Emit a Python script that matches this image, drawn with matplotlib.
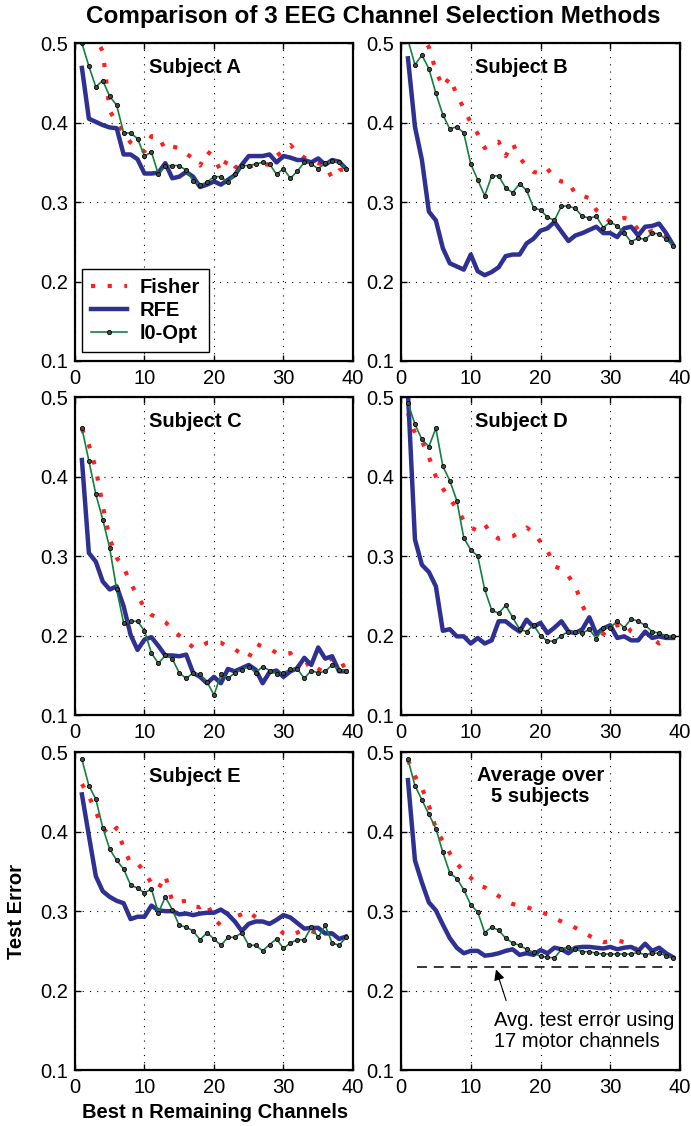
import numpy as np
import matplotlib
matplotlib.use("Agg")
import matplotlib.pyplot as plt

plt.rcParams['font.family'] = ['Liberation Sans', 'DejaVu Sans']

n_channels = np.arange(1, 40)

# test error per subject
fisher_A = [0.53, 0.52, 0.505, 0.49, 0.415, 0.40, 0.387, 0.375, 0.368, 0.364,
            0.383, 0.383, 0.366, 0.370, 0.368, 0.361, 0.355, 0.346, 0.364, 0.357,
            0.338, 0.355, 0.345, 0.340, 0.345, 0.346, 0.348, 0.347, 0.358, 0.365,
            0.372, 0.362, 0.356, 0.352, 0.349, 0.347, 0.330, 0.340, 0.342]
rfe_A = [0.469, 0.405, 0.401, 0.397, 0.394, 0.393, 0.360, 0.360, 0.354, 0.336,
         0.336, 0.337, 0.349, 0.330, 0.332, 0.338, 0.332, 0.319, 0.322, 0.326,
         0.322, 0.328, 0.334, 0.347, 0.358, 0.358, 0.358, 0.360, 0.350, 0.358,
         0.356, 0.353, 0.353, 0.350, 0.355, 0.347, 0.353, 0.351, 0.342]
l0_A = [0.500, 0.471, 0.445, 0.453, 0.433, 0.422, 0.387, 0.387, 0.380, 0.358,
        0.363, 0.335, 0.346, 0.346, 0.346, 0.340, 0.327, 0.322, 0.325, 0.332,
        0.332, 0.325, 0.335, 0.346, 0.346, 0.348, 0.350, 0.348, 0.335, 0.342,
        0.330, 0.339, 0.350, 0.348, 0.342, 0.349, 0.352, 0.350, 0.342]

fisher_B = [0.56, 0.53, 0.51, 0.495, 0.465, 0.445, 0.457, 0.435, 0.418, 0.400,
            0.386, 0.368, 0.374, 0.376, 0.358, 0.374, 0.356, 0.345, 0.338, 0.336,
            0.342, 0.330, 0.326, 0.326, 0.310, 0.308, 0.305, 0.290, 0.283, 0.275,
            0.278, 0.280, 0.278, 0.265, 0.260, 0.264, 0.262, 0.258, 0.246]
rfe_B = [0.481, 0.395, 0.353, 0.288, 0.277, 0.242, 0.223, 0.219, 0.215, 0.234,
         0.213, 0.208, 0.212, 0.218, 0.232, 0.234, 0.234, 0.248, 0.254, 0.264,
         0.267, 0.275, 0.263, 0.251, 0.258, 0.261, 0.265, 0.269, 0.261, 0.261,
         0.256, 0.267, 0.269, 0.258, 0.269, 0.270, 0.273, 0.261, 0.246]
l0_B = [0.504, 0.473, 0.485, 0.468, 0.437, 0.410, 0.392, 0.395, 0.387, 0.348,
        0.328, 0.308, 0.333, 0.333, 0.318, 0.312, 0.323, 0.315, 0.293, 0.290,
        0.281, 0.277, 0.295, 0.295, 0.292, 0.282, 0.280, 0.282, 0.268, 0.275,
        0.270, 0.261, 0.250, 0.255, 0.253, 0.261, 0.260, 0.253, 0.245]

fisher_C = [0.46, 0.44, 0.41, 0.363, 0.322, 0.298, 0.286, 0.266, 0.250, 0.235,
            0.226, 0.222, 0.217, 0.208, 0.200, 0.193, 0.185, 0.185, 0.191, 0.191,
            0.191, 0.186, 0.183, 0.176, 0.172, 0.190, 0.186, 0.184, 0.178, 0.177,
            0.178, 0.160, 0.171, 0.156, 0.155, 0.168, 0.171, 0.172, 0.156]
rfe_C = [0.421, 0.304, 0.293, 0.268, 0.258, 0.262, 0.237, 0.201, 0.182, 0.195,
         0.198, 0.187, 0.175, 0.175, 0.174, 0.176, 0.153, 0.148, 0.140, 0.148,
         0.140, 0.158, 0.155, 0.159, 0.163, 0.157, 0.140, 0.154, 0.156, 0.148,
         0.155, 0.159, 0.172, 0.163, 0.185, 0.171, 0.174, 0.155, 0.155]
l0_C = [0.461, 0.420, 0.378, 0.346, 0.310, 0.258, 0.216, 0.218, 0.218, 0.206,
        0.178, 0.165, 0.175, 0.171, 0.153, 0.146, 0.153, 0.151, 0.142, 0.125,
        0.151, 0.146, 0.153, 0.157, 0.161, 0.153, 0.161, 0.156, 0.152, 0.153,
        0.158, 0.158, 0.146, 0.156, 0.153, 0.155, 0.163, 0.157, 0.156]

fisher_D = [0.48, 0.455, 0.445, 0.425, 0.400, 0.385, 0.372, 0.360, 0.345, 0.336,
            0.332, 0.340, 0.327, 0.322, 0.324, 0.325, 0.330, 0.336, 0.330, 0.318,
            0.307, 0.287, 0.284, 0.275, 0.262, 0.238, 0.220, 0.208, 0.202, 0.210,
            0.213, 0.216, 0.205, 0.200, 0.203, 0.197, 0.190, 0.195, 0.199]
rfe_D = [0.505, 0.321, 0.289, 0.280, 0.262, 0.206, 0.208, 0.199, 0.199, 0.190,
         0.197, 0.190, 0.194, 0.218, 0.218, 0.211, 0.205, 0.220, 0.211, 0.216,
         0.203, 0.210, 0.218, 0.205, 0.203, 0.208, 0.223, 0.202, 0.209, 0.213,
         0.197, 0.199, 0.194, 0.194, 0.205, 0.197, 0.199, 0.197, 0.197]
l0_D = [0.493, 0.466, 0.447, 0.438, 0.461, 0.413, 0.395, 0.370, 0.323, 0.308,
        0.300, 0.258, 0.232, 0.228, 0.238, 0.223, 0.208, 0.205, 0.213, 0.200,
        0.193, 0.193, 0.200, 0.205, 0.205, 0.203, 0.208, 0.196, 0.210, 0.210,
        0.218, 0.210, 0.221, 0.218, 0.213, 0.205, 0.203, 0.200, 0.199]

fisher_E = [0.46, 0.445, 0.425, 0.405, 0.395, 0.405, 0.380, 0.360, 0.360, 0.350,
            0.335, 0.328, 0.345, 0.312, 0.312, 0.313, 0.306, 0.305, 0.310, 0.290,
            0.282, 0.300, 0.293, 0.296, 0.300, 0.292, 0.287, 0.284, 0.280, 0.272,
            0.269, 0.273, 0.277, 0.275, 0.272, 0.272, 0.272, 0.270, 0.267]
rfe_E = [0.447, 0.395, 0.344, 0.325, 0.318, 0.313, 0.310, 0.290, 0.293, 0.293,
         0.307, 0.301, 0.300, 0.300, 0.296, 0.297, 0.295, 0.297, 0.298, 0.298,
         0.302, 0.296, 0.287, 0.275, 0.284, 0.287, 0.287, 0.284, 0.289, 0.295,
         0.292, 0.285, 0.278, 0.279, 0.279, 0.272, 0.272, 0.265, 0.268]
l0_E = [0.491, 0.458, 0.441, 0.405, 0.378, 0.364, 0.353, 0.333, 0.329, 0.323,
        0.328, 0.298, 0.318, 0.302, 0.282, 0.280, 0.275, 0.264, 0.273, 0.265,
        0.257, 0.267, 0.267, 0.273, 0.257, 0.257, 0.250, 0.258, 0.265, 0.253,
        0.260, 0.264, 0.264, 0.280, 0.267, 0.282, 0.260, 0.257, 0.267]

fisher_avg = [0.49, 0.47, 0.455, 0.433, 0.404, 0.388, 0.373, 0.360, 0.350, 0.342,
              0.333, 0.330, 0.325, 0.319, 0.313, 0.309, 0.307, 0.305, 0.302, 0.299,
              0.296, 0.291, 0.287, 0.283, 0.279, 0.274, 0.269, 0.264, 0.261, 0.262,
              0.263, 0.261, 0.258, 0.250, 0.247, 0.247, 0.247, 0.244, 0.242]
rfe_avg = [0.465, 0.364, 0.336, 0.311, 0.301, 0.283, 0.266, 0.254, 0.247, 0.250,
           0.250, 0.244, 0.245, 0.247, 0.250, 0.252, 0.245, 0.247, 0.245, 0.251,
           0.247, 0.254, 0.252, 0.247, 0.254, 0.255, 0.255, 0.254, 0.253, 0.255,
           0.252, 0.254, 0.255, 0.250, 0.259, 0.250, 0.254, 0.247, 0.242]
l0_avg = [0.491, 0.458, 0.440, 0.422, 0.404, 0.374, 0.348, 0.341, 0.327, 0.308,
          0.299, 0.273, 0.280, 0.276, 0.266, 0.260, 0.257, 0.252, 0.248, 0.243,
          0.242, 0.241, 0.252, 0.255, 0.252, 0.249, 0.249, 0.247, 0.246, 0.246,
          0.246, 0.246, 0.246, 0.248, 0.245, 0.247, 0.247, 0.244, 0.241]

motor_avg = 0.23   # avg. test error with the 17 motor channels

titles = ["Subject A", "Subject B", "Subject C", "Subject D", "Subject E",
          "Average over\n5 subjects"]
fisher_all = [fisher_A, fisher_B, fisher_C, fisher_D, fisher_E, fisher_avg]
rfe_all = [rfe_A, rfe_B, rfe_C, rfe_D, rfe_E, rfe_avg]
l0_all = [l0_A, l0_B, l0_C, l0_D, l0_E, l0_avg]

FS = 14.5

fig = plt.figure(figsize=(6.91, 11.26), dpi=100)
lefts = [0.1085, 0.5803]
bottoms = [0.6794, 0.365, 0.0497]
w = [0.4023, 0.4038]
h = 0.2822

axes = []
for r in range(3):
    for c in range(2):
        axes.append(fig.add_axes([lefts[c], bottoms[r], w[c], h]))

for i, ax in enumerate(axes):
    ax.plot(n_channels, fisher_all[i], color='#ff1f1f', lw=3.0,
            dashes=(1, 3.0), label='Fisher')
    ax.plot(n_channels, rfe_all[i], color='#2e3192', lw=3.2, label='RFE')
    ax.plot(n_channels, l0_all[i], color='#15803d', lw=1.2, marker='o',
            ms=3, mfc='#4a4a4a', mec='black', mew=0.6, label='l0-Opt')
    ax.set_xlim(0, 40)
    ax.set_ylim(0.1, 0.5)
    ax.set_xticks([0, 10, 20, 30, 40])
    ax.set_yticks([0.1, 0.2, 0.3, 0.4, 0.5])
    ax.tick_params(direction='in', length=4, width=1, labelsize=FS,
                   top=True, right=True)
    ax.tick_params(axis='x', pad=6)
    ax.tick_params(axis='y', pad=5)
    ax.grid(True, color='black', lw=0.8, linestyle=(0, (1, 5.5)))
    for s in ax.spines.values():
        s.set_linewidth(1.6)
    if i < 5:
        ax.text(17.3, 0.47, titles[i], fontsize=FS, fontweight='bold',
                ha='center', va='center')
    else:
        ax.text(20, 0.458, titles[i], fontsize=FS, fontweight='bold',
                ha='center', va='center', linespacing=1.15)

leg = axes[0].legend(loc='lower left', bbox_to_anchor=(0.025, 0.028),
                     borderaxespad=0, fancybox=False, edgecolor='black',
                     framealpha=1, prop={'weight': 'bold', 'size': FS},
                     handlelength=1.8, handletextpad=0.6, labelspacing=0.2,
                     borderpad=0.45)
leg.get_frame().set_linewidth(1)

ax = axes[5]
ax.hlines(motor_avg, 2.25, 39, colors='black', lw=1.1,
          linestyles=(0, (6.5, 4.5)))
ax.annotate('', xy=(13.5, motor_avg), xytext=(15.2, 0.184),
            arrowprops=dict(arrowstyle='-|>', color='black', lw=0.8,
                            mutation_scale=16))
ax.text(13.3, 0.149, "Avg. test error using\n17 motor channels", fontsize=FS,
        ha='left', va='center', linespacing=1.15)

axes[4].set_ylabel('Test Error', fontsize=FS, fontweight='bold')
axes[4].yaxis.set_label_coords(-0.175, 0.5)
axes[4].set_xlabel('Best n Remaining Channels', fontsize=FS, fontweight='bold')
axes[4].xaxis.set_label_coords(0.504, -0.105)
fig.text(0.54, 0.985, 'Comparison of 3 EEG Channel Selection Methods',
         fontsize=17.5, fontweight='bold', ha='center', va='center')

plt.savefig('out.png', dpi=100)
